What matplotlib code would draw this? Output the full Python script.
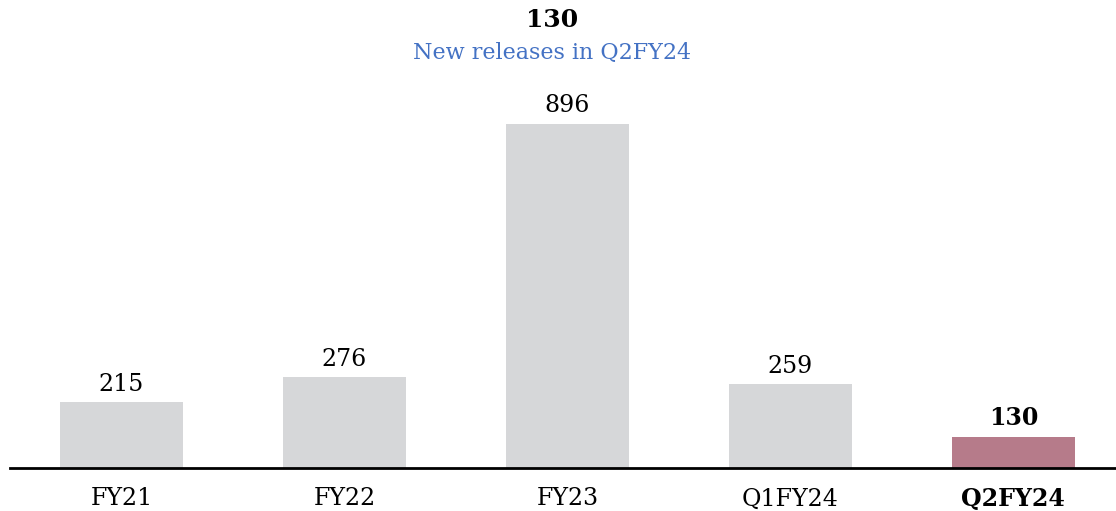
import matplotlib.pyplot as plt

categories = ['FY21', 'FY22', 'FY23', 'Q1FY24', 'Q2FY24']
releases = [215, 276, 896, 259, 130]

plt.rcParams['font.family'] = ['DejaVu Serif']

fig = plt.figure(figsize=(11.16, 5.11), dpi=100)
ax = fig.add_axes([10 / 1116, 43 / 511, 1106 / 1116, 368 / 511])

colors = ['#d6d7d9'] * 4 + ['#b67b8a']
x = range(len(categories))
bars = ax.bar(x, releases, width=0.55, color=colors)

# the source chart does not start at zero
ax.set_ylim(54, 954)
ax.set_xlim(-0.5, 4.46)

for i, (b, v) in enumerate(zip(bars, releases)):
    last = i == len(releases) - 1
    ax.text(b.get_x() + b.get_width() / 2, v + 16, str(v), ha='center', va='bottom',
            fontsize=17, fontweight='bold' if last else 'normal', color='black')

ax.set_xticks(list(x))
ax.set_xticklabels(categories, fontsize=17)
ax.get_xticklabels()[-1].set_fontweight('bold')
ax.tick_params(axis='x', length=0, pad=14)
ax.set_yticks([])
for s in ['top', 'right', 'left']:
    ax.spines[s].set_visible(False)
ax.spines['bottom'].set_linewidth(2)

fig.text(552 / 1116, 1 - 20 / 511, '130', ha='center', va='center', fontsize=18, fontweight='bold')
fig.text(552 / 1116, 1 - 53 / 511, 'New releases in Q2FY24', ha='center', va='center',
         fontsize=16, color='#4472c4')

fig.savefig('out.png', dpi=100)
